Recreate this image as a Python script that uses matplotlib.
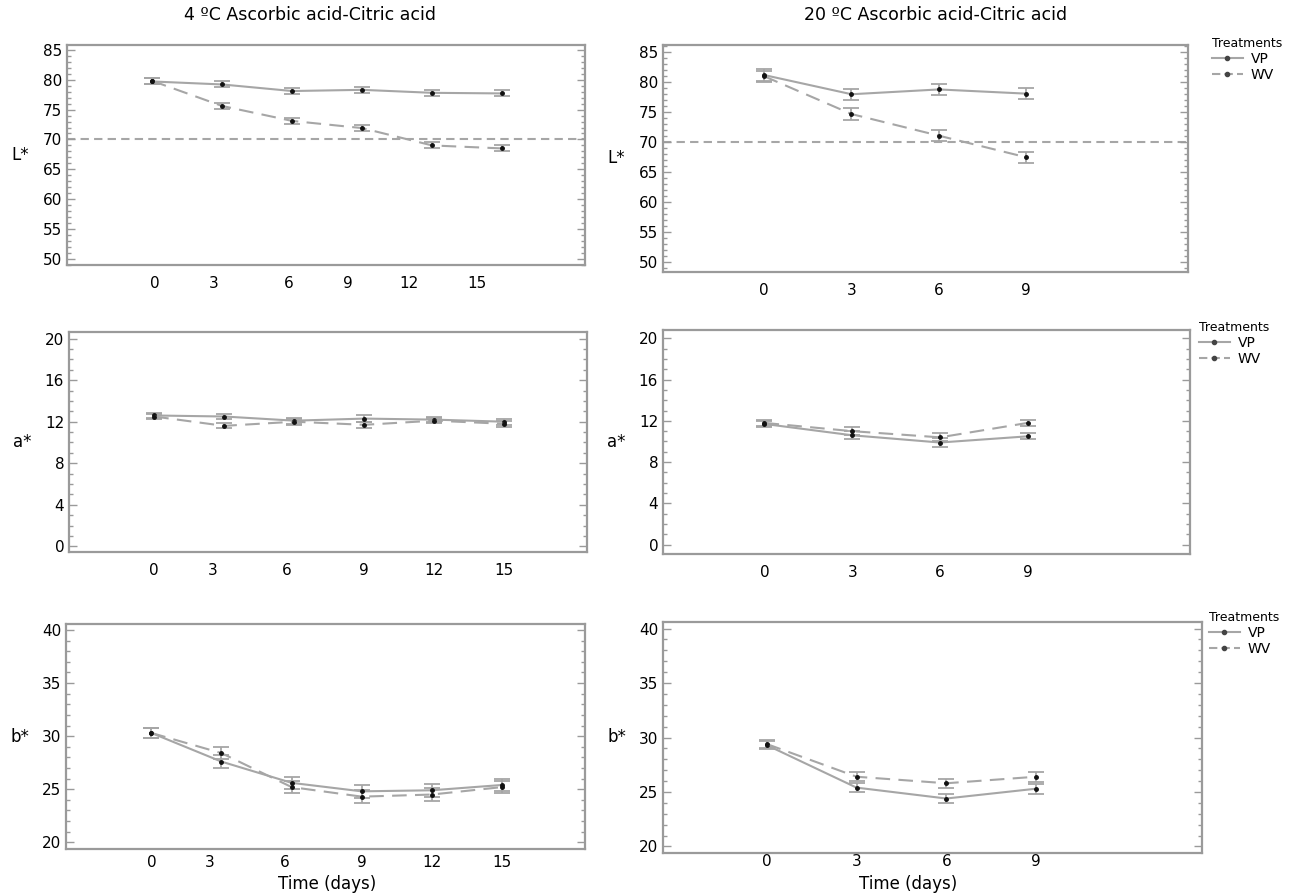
import numpy as np
import matplotlib.pyplot as plt
from matplotlib.ticker import MultipleLocator
from matplotlib.lines import Line2D

days_4 = [0, 3, 6, 9, 12, 15]
days_20 = [0, 3, 6, 9]

# 4 ºC
L_vp_4 = [79.7, 79.2, 78.1, 78.3, 77.8, 77.7]
L_wv_4 = [79.8, 75.6, 73.1, 71.9, 69.0, 68.5]
a_vp_4 = [12.6, 12.5, 12.1, 12.3, 12.2, 12.0]
a_wv_4 = [12.5, 11.6, 12.0, 11.7, 12.1, 11.8]
b_vp_4 = [30.3, 27.6, 25.6, 24.8, 24.9, 25.4]
b_wv_4 = [30.3, 28.4, 25.2, 24.3, 24.5, 25.2]
L_err_4 = [0.5, 0.5, 0.5, 0.5, 0.5, 0.5]
a_err_4 = [0.25, 0.25, 0.3, 0.3, 0.25, 0.3]
b_err_4 = [0.5, 0.6, 0.55, 0.6, 0.6, 0.6]

# 20 ºC
L_vp_20 = [81.1, 77.9, 78.7, 78.0]
L_wv_20 = [80.9, 74.6, 71.0, 67.4]
a_vp_20 = [11.7, 10.6, 9.9, 10.5]
a_wv_20 = [11.8, 11.0, 10.4, 11.8]
b_vp_20 = [29.3, 25.4, 24.4, 25.3]
b_wv_20 = [29.4, 26.4, 25.8, 26.4]
L_err_20 = [0.95, 0.95, 0.95, 0.9]
a_err_20 = [0.3, 0.4, 0.4, 0.3]
b_err_20 = [0.4, 0.4, 0.4, 0.45]

xtick_labels_4 = ["0", "3", "6", "9", "12", "15"]
xtick_labels_20 = ["0", "3", "6", "9"]
treatments = ["VP", "WV"]

W, H = 1289, 894
fig = plt.figure(figsize=(W / 100, H / 100), dpi=100)
plt.rcParams["font.family"] = ["DejaVu Sans"]

GREY = "#a6a6a6"
SPINE = "#9a9a9a"
DASH = (0, (7, 4))


def px_axes(l, r, t, b):
    return fig.add_axes([l / W, 1 - b / H, (r - l) / W, (b - t) / H])


def panel(ax, x, vp, wv, err, ylim, major, label, xlim, ticklabels, tickpos, ref=None, legend_at=None):
    for y, ls in [(vp, "-"), (wv, DASH)]:
        ax.errorbar(x, y, yerr=err, color=GREY, lw=1.5, ls=ls, capsize=6, capthick=1.3,
                    elinewidth=1.3, marker="o", ms=2.5, mfc="#111111", mec="#111111")
    if ref is not None:
        ax.axhline(ref, color=GREY, lw=1.5, ls=(0, (4, 2.5)), zorder=0)
    ax.set_xlim(*xlim)
    ax.set_ylim(*ylim)
    ax.yaxis.set_major_locator(MultipleLocator(major))
    ax.yaxis.set_minor_locator(MultipleLocator(1))
    ax.set_xticks(tickpos)
    ax.set_xticklabels(ticklabels)
    ax.tick_params(axis="x", length=0, labelsize=11, pad=8)
    ax.tick_params(axis="y", which="both", direction="in", right=True, color=SPINE,
                   labelsize=11, width=1)
    ax.tick_params(axis="y", which="major", length=6)
    ax.tick_params(axis="y", which="minor", length=3)
    for s in ax.spines.values():
        s.set_color(SPINE)
        s.set_linewidth(1.6)
    ax.set_ylabel(label, rotation=0, fontsize=12, labelpad=16, va="center")
    if legend_at is not None:
        handles = [Line2D([], [], color=GREY, lw=1.5, ls=ls, marker="o", ms=3,
                          mfc="#444444", mec="#444444") for ls in ["-", (0, (4, 2))]]
        ax.legend(handles, treatments, title="Treatments", loc="upper left",
                  bbox_to_anchor=(legend_at[0] / W, 1 - legend_at[1] / H),
                  bbox_transform=fig.transFigure, frameon=False, fontsize=10,
                  title_fontsize=9, handlelength=2.2, handletextpad=0.6,
                  borderaxespad=0, borderpad=0, labelspacing=0.15, alignment="left")


lim4 = (-3.65, 18.55)
lim20 = (-3.47, 14.55)

ax = px_axes(67, 585, 45, 265)
panel(ax, days_4, L_vp_4, L_wv_4, L_err_4, (49.0, 85.8), 5, "L*", lim4, xtick_labels_4,
      [0.1, 2.65, 5.85, 8.4, 11.0, 13.9], ref=70)
ax = px_axes(663, 1188, 45, 272)
panel(ax, days_20, L_vp_20, L_wv_20, L_err_20, (48.3, 86.1), 5, "L*", lim20, xtick_labels_20,
      days_20, ref=70, legend_at=(1212, 37))

ax = px_axes(69, 587, 332, 552)
panel(ax, days_4, a_vp_4, a_wv_4, a_err_4, (-0.55, 20.64), 4, "a*", lim4, xtick_labels_4,
      [0, 2.5, 5.7, 9, 12, 15])
ax = px_axes(663, 1190, 330, 554)
panel(ax, days_20, a_vp_20, a_wv_20, a_err_20, (-0.9, 20.8), 4, "a*", lim20, xtick_labels_20,
      days_20, legend_at=(1199, 321))

ax = px_axes(66, 585, 624, 849)
panel(ax, days_4, b_vp_4, b_wv_4, b_err_4, (19.37, 40.56), 5, "b*", lim4, xtick_labels_4,
      [0, 2.5, 5.7, 9, 12, 15])
ax.tick_params(axis="x", pad=4)
ax = px_axes(663, 1202, 622, 853)
panel(ax, days_20, b_vp_20, b_wv_20, b_err_20, (19.4, 40.6), 5, "b*", lim20, xtick_labels_20,
      days_20, legend_at=(1209, 611))
ax.tick_params(axis="x", pad=1)

fig.text(327 / W, 1 - 884 / H, "Time (days)", ha="center", va="center", fontsize=12)
fig.text(908 / W, 1 - 884 / H, "Time (days)", ha="center", va="center", fontsize=12)
fig.text(310 / W, 1 - 15 / H, "4 ºC Ascorbic acid-Citric acid", ha="center", va="center", fontsize=12.5)
fig.text(936 / W, 1 - 15 / H, "20 ºC Ascorbic acid-Citric acid", ha="center", va="center", fontsize=12.5)

fig.savefig("out.png", dpi=100)
